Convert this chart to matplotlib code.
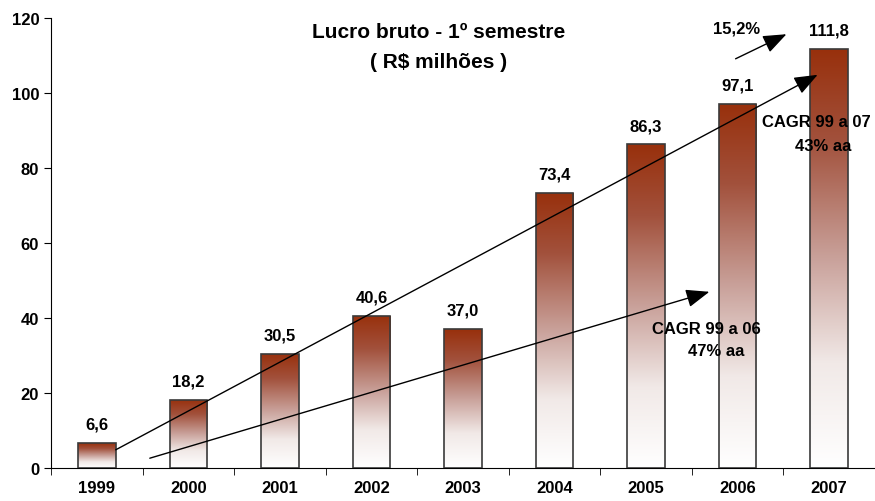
import matplotlib.pyplot as plt
import numpy as np
from matplotlib.colors import LinearSegmentedColormap

plt.rcParams['font.family'] = ['Liberation Sans', 'DejaVu Sans']
plt.rcParams['font.weight'] = 'bold'

years = ["1999", "2000", "2001", "2002", "2003", "2004", "2005", "2006", "2007"]
lucro = [6.6, 18.2, 30.5, 40.6, 37.0, 73.4, 86.3, 97.1, 111.8]
labels = ["6,6", "18,2", "30,5", "40,6", "37,0", "73,4", "86,3", "97,1", "111,8"]

fig = plt.figure(figsize=(8.75, 5.02), dpi=100)
ax = fig.add_axes([51 / 875, 33 / 502, 824 / 875, 450 / 502])

x = np.arange(len(years))
bars = ax.bar(x, lucro, width=0.41, color='none', edgecolor='#3a3a3a', linewidth=1.2, zorder=3)

# gradient: white at the bottom, dark brownish red at the top of each bar
cmap = LinearSegmentedColormap.from_list(
    'grad', [(0.0, '#ffffff'), (0.25, '#f1e9e7'), (0.5, '#c9a19a'),
             (0.78, '#a2513c'), (1.0, '#98300c')])
grad = np.linspace(0, 1, 256).reshape(-1, 1)
for b in bars:
    bx, by = b.get_x(), b.get_y()
    w, h = b.get_width(), b.get_height()
    im = ax.imshow(grad, extent=[bx, bx + w, by, by + h], origin='lower',
                   aspect='auto', cmap=cmap, zorder=2)
    im.set_clip_path(b)

for xi, v, lab in zip(x, lucro, labels):
    ax.text(xi, v + 5.0, lab, ha='center', va='center', fontsize=12, fontweight='bold')

ax.set_xlim(-0.5, len(years) - 0.5)
ax.set_ylim(0, 120)
ax.set_yticks(range(0, 121, 20))
ax.set_xticks(x)
ax.set_xticklabels(years, fontsize=12, fontweight='bold')
ax.set_xticks(np.arange(-0.5, len(years), 1), minor=True)
ax.tick_params(axis='x', which='major', length=0, pad=9)
ax.tick_params(axis='x', which='minor', length=5, direction='out')
ax.tick_params(axis='y', labelsize=12, length=5)
for t in ax.get_yticklabels():
    t.set_fontweight('bold')
ax.spines['top'].set_visible(False)
ax.spines['right'].set_visible(False)

ax.text(3.73, 116.3, "Lucro bruto - 1º semestre", ha='center', va='center', fontsize=15, fontweight='bold')
ax.text(3.73, 108.5, "( R$ milhões )", ha='center', va='center', fontsize=15, fontweight='bold')

arr = dict(arrowstyle='-|>,head_length=0.9,head_width=0.35', color='black', lw=1.0, mutation_scale=16)
ax.annotate("", xy=(7.90, 105.2), xytext=(0.18, 4.5), arrowprops=arr, zorder=5)
ax.annotate("", xy=(6.72, 47.2), xytext=(0.55, 2.4), arrowprops=arr, zorder=5)
ax.annotate("", xy=(7.56, 116.0), xytext=(6.95, 108.8), arrowprops=arr, zorder=5)

ax.text(6.99, 117.3, "15,2%", ha='center', va='center', fontsize=12, fontweight='bold')
ax.text(7.86, 92.3, "CAGR 99 a 07", ha='center', va='center', fontsize=12, fontweight='bold', zorder=6)
ax.text(7.93, 85.9, "43% aa", ha='center', va='center', fontsize=12, fontweight='bold', zorder=6)
ax.text(6.66, 37.3, "CAGR 99 a 06", ha='center', va='center', fontsize=12, fontweight='bold', zorder=6)
ax.text(6.77, 31.2, "47% aa", ha='center', va='center', fontsize=12, fontweight='bold', zorder=6)

fig.savefig('out.png', dpi=100)
